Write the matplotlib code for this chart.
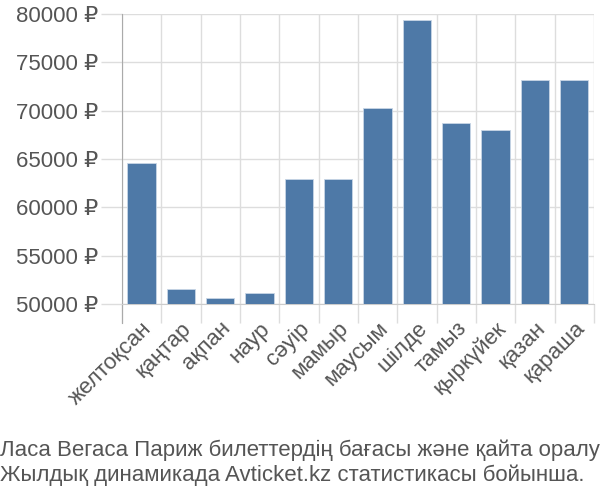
import numpy as np
import matplotlib
matplotlib.use('Agg')
import matplotlib.pyplot as plt

plt.rcParams['font.family'] = ['Liberation Sans', 'DejaVu Sans']

months = ["желтоқсан", "қаңтар", "ақпан", "наур", "сәуір", "мамыр",
          "маусым", "шілде", "тамыз", "қыркүйек", "қазан", "қараша"]
prices = [64600, 51550, 50650, 51100, 62970, 62970,
          70240, 79350, 68690, 67970, 73210, 73140]
yticks = [50000, 55000, 60000, 65000, 70000, 75000, 80000]
title = ("Ласа Вегаса Париж билеттердің бағасы және қайта оралу\n"
         "Жылдық динамикада Avticket.kz статистикасы бойынша.")

fig = plt.figure(figsize=(6, 5), dpi=100)
ax = fig.add_axes([0.203, 0.392, 0.787, 0.58])

x = np.arange(len(months))
ax.bar(x, prices, width=0.72, color='#4e79a7', edgecolor='#c8d6e6', linewidth=0.6, zorder=3)

ax.set_xlim(-0.5, len(months) - 0.5)
ax.set_ylim(50000, 80000)
ax.set_yticks(yticks)
ax.set_yticklabels(["%d ₽" % v for v in yticks])
ax.set_xticks(x)
ax.set_xticklabels(months, rotation=45, ha='right', rotation_mode='anchor')

ax.set_xticks(np.arange(len(months) + 1) - 0.5, minor=True)
ax.grid(True, which='minor', axis='x', color='#dddddd', linewidth=1, zorder=0)
ax.grid(True, which='major', axis='y', color='#dddddd', linewidth=1, zorder=0)

ax.tick_params(axis='x', which='major', length=0, labelsize=16, labelcolor='#555555', pad=10)
ax.tick_params(axis='x', which='minor', length=14, color='#dddddd', width=1)
ax.tick_params(axis='y', length=15, color='#dddddd', width=1, labelsize=16, labelcolor='#555555', pad=2)

for s in ['top', 'right']:
    ax.spines[s].set_visible(False)
ax.spines['bottom'].set_color('#cccccc')
ax.spines['left'].set_color('#aaaaaa')
ax.spines['left'].set_bounds(48000, 80000)

fig.text(0.0, 0.028, title, ha='left', va='bottom', fontsize=16, color='#555555', linespacing=1.2)

plt.savefig('out.png', dpi=100)
